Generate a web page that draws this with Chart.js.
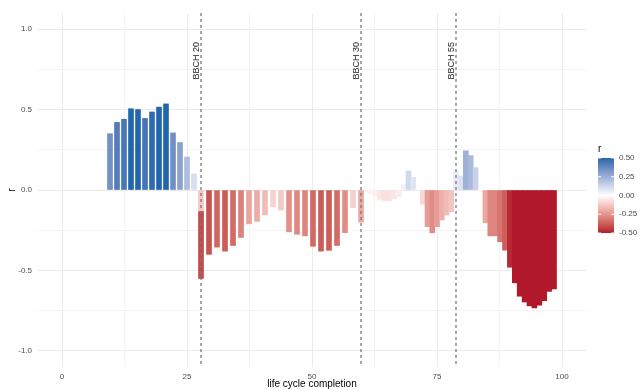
<!DOCTYPE html>
<html>
<head>
<meta charset="utf-8">
<script src="https://cdn.jsdelivr.net/npm/chart.js@4.4.1/dist/chart.umd.min.js"></script>
<style>
  html, body { margin: 0; padding: 0; background: #fff; }
  #chart { display: block; }
</style>
</head>
<body>
<canvas id="chart" width="644" height="390"></canvas>
<script>
// ========== DATA ==========
// life cycle completion (%) of each bar, one array per growth phase
const phase1X = [9.6, 11.0, 12.4, 13.8, 15.2, 16.6, 18.0, 19.4, 20.8, 22.2, 23.6, 25.0, 26.4, 27.8];
const phase1R = [0.35, 0.42, 0.44, 0.505, 0.50, 0.445, 0.485, 0.515, 0.535, 0.355, 0.295, 0.205, 0.10, -0.13];

const phase2X = [27.8, 29.4, 31.0, 32.6, 34.2, 35.8, 37.4, 39.0, 40.6, 42.2, 43.8,
                 45.4, 47.0, 48.6, 50.2, 51.8, 53.4, 55.0, 56.6, 58.2, 59.8];
const phase2R = [-0.42, -0.40, -0.355, -0.38, -0.345, -0.295, -0.21, -0.195, -0.155, -0.105, -0.125,
                 -0.26, -0.275, -0.285, -0.35, -0.38, -0.375, -0.345, -0.265, -0.11, -0.20];

const phase3X = [59.8, 60.75, 61.7, 62.65, 63.6, 64.55, 65.5, 66.45, 67.4, 68.35, 69.3,
                 70.25, 71.2, 72.15, 73.1, 74.05, 75.0, 75.95, 76.9, 77.85, 78.8];
const phase3R = [-0.01, -0.015, -0.027, -0.037, -0.058, -0.066, -0.066, -0.054, -0.041, 0.037, 0.118,
                 0.079, 0.005, -0.089, -0.228, -0.266, -0.228, -0.187, -0.156, -0.135, 0.06];

const phase4X = [78.8, 79.78, 80.76, 81.74, 82.72, 83.7, 84.68, 85.66, 86.64, 87.62, 88.6,
                 89.58, 90.56, 91.54, 92.52, 93.5, 94.48, 95.46, 96.44, 97.42, 98.4];
const phase4R = [0.058, 0.087, 0.243, 0.214, 0.139, -0.01, -0.204, -0.285, -0.285, -0.322, -0.374,
                 -0.48, -0.577, -0.66, -0.696, -0.72, -0.733, -0.716, -0.688, -0.63, -0.615];

// BBCH stage markers
const stageX = [27.8, 59.8, 78.8];
const stageLabels = ['BBCH 20', 'BBCH 30', 'BBCH 55'];
const stageLabelY = 0.92;

// axes
const xTickValues = [0, 12.5, 25, 37.5, 50, 62.5, 75, 87.5, 100];
const yTickValues = [-1, -0.75, -0.5, -0.25, 0, 0.25, 0.5, 0.75, 1];

// colour legend
const legendTitle = 'r';
const legendMin = -0.5;
const legendMax = 0.5;
const legendBreaks = [0.5, 0.25, 0, -0.25, -0.5];
const legendLabels = ['0.50', '0.25', '0.00', '-0.25', '-0.50'];

// ========== COLOUR SCALE (diverging, Lab interpolation) ==========
const LOW = '#B2182B', MID = '#FFFFFF', HIGH = '#2166AC';

function hexToLab(hex) {
  const n = parseInt(hex.slice(1), 16);
  const rgb = [(n >> 16) & 255, (n >> 8) & 255, n & 255].map(v => {
    v /= 255;
    return v <= 0.04045 ? v / 12.92 : Math.pow((v + 0.055) / 1.055, 2.4);
  });
  const X = (0.4124 * rgb[0] + 0.3576 * rgb[1] + 0.1805 * rgb[2]) / 0.95047;
  const Y = 0.2126 * rgb[0] + 0.7152 * rgb[1] + 0.0722 * rgb[2];
  const Z = (0.0193 * rgb[0] + 0.1192 * rgb[1] + 0.9505 * rgb[2]) / 1.08883;
  const f = t => t > 0.008856 ? Math.cbrt(t) : 7.787 * t + 16 / 116;
  return [116 * f(Y) - 16, 500 * (f(X) - f(Y)), 200 * (f(Y) - f(Z))];
}

function labToCss(lab) {
  const fy = (lab[0] + 16) / 116, fx = fy + lab[1] / 500, fz = fy - lab[2] / 200;
  const inv = t => t > 0.206893 ? t * t * t : (t - 16 / 116) / 7.787;
  const X = inv(fx) * 0.95047, Y = inv(fy), Z = inv(fz) * 1.08883;
  const lin = [
    3.2406 * X - 1.5372 * Y - 0.4986 * Z,
    -0.9689 * X + 1.8758 * Y + 0.0415 * Z,
    0.0557 * X - 0.2040 * Y + 1.0570 * Z
  ];
  const c = lin.map(v => {
    v = v <= 0.0031308 ? 12.92 * v : 1.055 * Math.pow(v, 1 / 2.4) - 0.055;
    return Math.round(Math.min(1, Math.max(0, v)) * 255);
  });
  return 'rgb(' + c.join(',') + ')';
}

const labLow = hexToLab(LOW), labMid = hexToLab(MID), labHigh = hexToLab(HIGH);

function fillFor(r) {
  let t = r < 0 ? r / legendMin : r / legendMax;
  t = Math.min(1, Math.max(0, t)); // squish out of range values
  const end = r < 0 ? labLow : labHigh;
  return labToCss(labMid.map((m, i) => m + (end[i] - m) * t));
}

// ========== PLUGINS ==========
const stageLines = {
  id: 'stageLines',
  afterDatasetsDraw(chart) {
    const { ctx, chartArea, scales: { x, y } } = chart;
    ctx.save();
    stageX.forEach((v, i) => {
      const px = x.getPixelForValue(v);
      ctx.strokeStyle = '#7a7a7a';
      ctx.lineWidth = 1.3;
      ctx.setLineDash([3, 3]);
      ctx.beginPath();
      ctx.moveTo(px, chartArea.top);
      ctx.lineTo(px, chartArea.bottom);
      ctx.stroke();
      ctx.setLineDash([]);

      ctx.save();
      ctx.translate(px - 2, y.getPixelForValue(stageLabelY));
      ctx.rotate(-Math.PI / 2);
      ctx.font = '9px "Liberation Sans"';
      ctx.fillStyle = '#1a1a1a';
      ctx.textAlign = 'right';
      ctx.textBaseline = 'alphabetic';
      ctx.fillText(stageLabels[i], 0, 0);
      ctx.restore();
    });
    ctx.restore();
  }
};

const colorbar = {
  id: 'colorbar',
  afterDraw(chart) {
    const ctx = chart.ctx;
    const left = 598, width = 16, top = 158, height = 75;
    ctx.save();
    for (let i = 0; i < height; i++) {
      const r = legendMax - (i + 0.5) / height * (legendMax - legendMin);
      ctx.fillStyle = fillFor(r);
      ctx.fillRect(left, top + i, width, 1);
    }
    ctx.font = '8px "Liberation Sans"';
    legendBreaks.forEach((b, i) => {
      const yy = top + (legendMax - b) / (legendMax - legendMin) * height;
      ctx.strokeStyle = '#ffffff';
      ctx.lineWidth = 1;
      ctx.beginPath();
      ctx.moveTo(left, yy); ctx.lineTo(left + 3, yy);
      ctx.moveTo(left + width - 3, yy); ctx.lineTo(left + width, yy);
      ctx.stroke();
      ctx.fillStyle = '#4D4D4D';
      ctx.textAlign = 'left';
      ctx.textBaseline = 'middle';
      ctx.fillText(legendLabels[i], left + width + 5, yy);
    });
    ctx.fillStyle = '#000';
    ctx.font = '10px "Liberation Sans"';
    ctx.textBaseline = 'alphabetic';
    ctx.fillText(legendTitle, left, top - 6);
    ctx.restore();
  }
};

// ========== CHART ==========
Chart.defaults.font.family = '"Liberation Sans", Arial, sans-serif';

function phaseData(xs, rs) {
  return xs.map((x, i) => ({ x: x, y: rs[i] }));
}

const datasets = [
  phaseData(phase1X, phase1R),
  phaseData(phase2X, phase2R),
  phaseData(phase3X, phase3R),
  phaseData(phase4X, phase4R)
].map(data => ({
  data: data,
  backgroundColor: ctx => fillFor(ctx.raw ? ctx.raw.y : 0),
  borderWidth: 0,
  barThickness: 5
}));

const isMajorX = v => v % 25 === 0;
const isMajorY = v => Math.abs(v * 2 - Math.round(v * 2)) < 1e-9;

new Chart(document.getElementById('chart'), {
  type: 'bar',
  data: { datasets: datasets },
  plugins: [stageLines, colorbar],
  options: {
    responsive: false,
    animation: false,
    devicePixelRatio: 1,
    layout: { padding: { left: 0, right: 57, top: 13, bottom: 0 } },
    plugins: {
      legend: { display: false },
      tooltip: { enabled: false }
    },
    scales: {
      x: {
        type: 'linear',
        stacked: true,
        min: -5,
        max: 105,
        offset: false,
        afterBuildTicks: axis => { axis.ticks = xTickValues.map(v => ({ value: v })); },
        afterFit: axis => { axis.height = 23; },
        ticks: {
          autoSkip: false,
          maxRotation: 0,
          padding: 5,
          color: '#4D4D4D',
          font: { size: 8 },
          callback: v => isMajorX(v) ? String(v) : ''
        },
        grid: {
          offset: false,
          drawTicks: false,
          color: c => isMajorX(c.tick.value) ? '#EBEBEB' : '#F4F4F4',
          lineWidth: 1
        },
        border: { display: false },
        title: {
          display: true,
          text: 'life cycle completion',
          color: '#000',
          font: { size: 10 },
          padding: { top: 0, bottom: 0 }
        }
      },
      y: {
        stacked: true,
        min: -1.1,
        max: 1.1,
        afterBuildTicks: axis => { axis.ticks = yTickValues.map(v => ({ value: v })); },
        afterFit: axis => { axis.width = 37; },
        ticks: {
          autoSkip: false,
          padding: 5,
          color: '#4D4D4D',
          font: { size: 8 },
          callback: v => isMajorY(v) ? v.toFixed(1) : ''
        },
        grid: {
          drawTicks: false,
          color: c => isMajorY(c.tick.value) ? '#EBEBEB' : '#F4F4F4',
          lineWidth: 1
        },
        border: { display: false },
        title: {
          display: true,
          text: 'r',
          color: '#000',
          font: { size: 10 },
          padding: { top: 6, bottom: 0 }
        }
      }
    }
  }
});
</script>
</body>
</html>
